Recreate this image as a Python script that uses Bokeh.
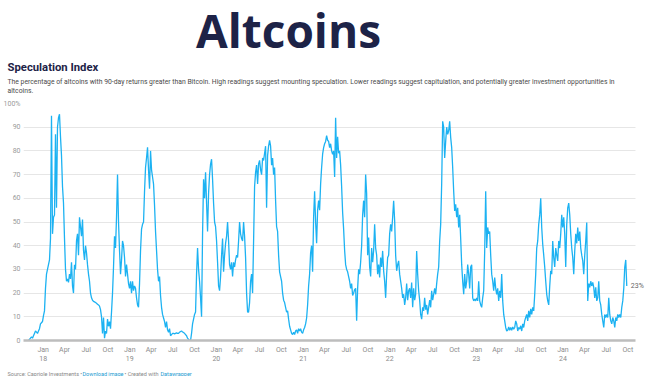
import datetime as dt
import pandas as pd
from bokeh.plotting import figure
from bokeh.layouts import column
from bokeh.models import ColumnDataSource, Range1d, FixedTicker, Label
from bokeh.embed import file_html
from bokeh.resources import INLINE

# ---------------- data ----------------
start_date = "2017-10-31"
end_date = "2024-09-26"

spec_2017_18 = [0, 0.5, 1, 1.5, 1, 2, 3, 4, 3.5, 3, 4, 5, 7, 7.5, 8, 10.5, 12.5, 22, 28, 30,
                32, 34, 43, 94.8, 45, 52, 53, 87, 56, 90, 94, 95.5, 86, 78, 65, 58, 43, 30, 25, 26,
                24.5, 28, 26, 33, 23, 20, 32, 30, 42, 45, 36, 52, 48, 44, 51, 38, 34, 40, 37, 32,
                28, 25, 20, 18, 17, 16.5, 16.3, 16, 15.7, 15.3, 15, 14.5, 13, 10, 3, 9.7, 1, 4, 3, 9,
                6, 8, 5, 12, 20, 31, 44, 39, 52, 70, 50, 38, 28, 34, 42, 40, 35, 27, 32, 28,
                24, 22]
spec_2019 = [25, 20, 25, 21, 23, 22, 18, 15, 14, 24, 38, 47, 49, 50, 63, 73, 77, 81.5, 72, 64,
             80, 72, 69, 66, 57, 46, 38, 30, 25, 27, 19, 14, 11, 9.5, 8, 5.5, 8, 4.5, 3.5, 5,
             2, 2.5, 3, 3, 2.8, 3, 3.2, 3, 3, 3.5, 3.8, 4, 3.6, 3.4, 3, 2.5, 2, 1, 0.5, 0,
             0, 3, 7, 9, 11, 12, 28, 39, 30, 25, 18, 10, 45, 68, 60, 71, 58, 46, 62, 70,
             74.4, 76.5, 68, 58, 50, 48]
spec_2020 = [42, 33, 23, 21, 27, 36, 43, 29, 36, 41, 44, 50, 42, 32, 30, 33, 27, 33, 31, 34,
             36, 35, 42, 50, 45, 43, 42, 50, 44, 35, 20, 12, 12, 16, 25, 28, 20, 42, 65, 71,
             74, 66, 74.5, 76, 72, 70, 77, 76, 79, 82, 56, 78, 82, 84.5, 82, 74, 77, 70, 73, 59,
             48, 46, 36, 29, 27, 25, 20, 17, 16, 14, 12, 12.5, 9, 6, 4.5, 3, 2.5, 3.5, 2.5, 4,
             4.5, 3, 5, 4, 5, 3.5, 3]
spec_2021 = [4.5, 5.5, 7, 9.5, 15, 23, 28, 37, 40, 29, 52, 63, 50, 41, 55, 59, 55, 66, 73, 78.6,
             81.4, 83, 84, 86.4, 84.5, 84, 81.4, 83, 80, 78.6, 80, 69, 94, 77, 86, 79, 80, 74, 65, 54,
             47, 38, 32, 30, 29, 27, 25, 22, 24, 19, 20, 21.5, 22, 8.3, 22, 30, 28, 33, 40, 53,
             59, 52, 70, 62, 36, 43.5, 31, 27, 39, 33, 38, 49, 39, 36, 28, 32, 26.6, 35, 31, 37.8,
             29.4, 25, 18, 28, 35, 36]
spec_2022 = [45, 49, 46, 52, 59, 50.5, 36, 29.4, 32, 33.6, 28, 25, 22, 18, 19.5, 15, 18, 24, 17, 21,
             22, 18, 24.5, 14, 22, 17, 19.5, 37.8, 28, 21, 17, 11, 9, 14, 12.5, 18, 13, 15, 11, 14,
             17, 14, 21, 17, 19.5, 22, 19.5, 24, 28, 31, 42, 49, 66, 92.5, 90, 77, 84, 90, 87, 88.5,
             92.5, 85.7, 81.4, 73, 63, 54.7, 57.5, 52, 56, 47.7, 53, 43, 32, 25, 19.5, 28, 22, 25, 32, 28,
             22, 31, 32, 18, 16.7, 17.5, 16.7]
spec_2023 = [18, 16.7, 25, 16.7, 15, 14, 18, 21, 37.8, 63, 39, 47.7, 45, 46, 36, 28, 25, 21, 26.6, 22,
             19.5, 22, 16.7, 21, 18, 28, 16.7, 11, 8.3, 5.5, 4, 4.3, 5.7, 4.3, 5.5, 4.3, 5.7, 4.8, 5.5, 8.3,
             7, 4, 5.5, 4.8, 6.2, 4, 7, 5.5, 8.3, 9.7, 11, 8.3, 12.5, 9.7, 13.4, 11, 14, 12.5, 19.5, 28,
             39, 42, 49, 53, 60, 47.7, 40.6, 36, 31, 25, 19.5, 16.7, 15, 23, 29.4, 28, 42, 35, 31, 39,
             36, 33.6, 42, 39, 45, 53, 47.7]
spec_2024 = [52, 45, 31, 49, 56, 58, 53, 45, 39, 35, 28, 37.8, 45, 41, 47.7, 42, 46, 39, 36, 33.6,
             28, 36, 42, 49.8, 16.7, 24, 22.4, 25, 23, 24.5, 22.4, 18, 22.4, 16.7, 18, 25, 16.7, 15, 11, 8.3,
             5.5, 11, 9.7, 11, 9.7, 18, 11, 8.3, 7, 9.7, 8.3, 5.5, 9.7, 8.3, 11, 9.7, 11, 9.7, 14, 16.7,
             22, 31, 34, 23]

y_ticks = [0, 10, 20, 30, 40, 50, 60, 70, 80, 90, 100]
y_tick_labels = ["0", "10", "20", "30", "40", "50", "60", "70", "80", "90", "100%"]
tick_years = ["18", "19", "20", "21", "22", "23", "24"]
quarter_months = ["Jan", "Apr", "Jul", "Oct"]

title_text = "Altcoins"
subtitle_text = "Speculation Index"
desc_line1 = ("The percentage of altcoins with 90-day returns greater than Bitcoin. High readings suggest "
              "mounting speculation. Lower readings suggest capitulation, and potentially greater investment opportunities in")
desc_line2 = "altcoins."

# ---------------- build ----------------
values = spec_2017_18 + spec_2019 + spec_2020 + spec_2021 + spec_2022 + spec_2023 + spec_2024
dates = pd.date_range(start_date, end_date, periods=len(values))
source = ColumnDataSource(dict(date=dates, value=values))

FONT = "Roboto"
BLUE = "#1cb2f2"
NAVY = "#1d2347"
W = 650
HEAD_H = 95
FOOT_H = 9
CHART_H = 376 - HEAD_H - FOOT_H
FRAME_TOP = 103
FRAME_BOTTOM = 340


def to_ms(d):
    return (d - dt.datetime(1970, 1, 1)).total_seconds() * 1000.0


def no_align(f):
    if "frame_align" in f.properties():
        f.frame_align = False


def blank(h):
    f = figure(width=W, height=h, output_backend="svg", toolbar_location=None,
               x_range=Range1d(0, W), y_range=Range1d(0, h),
               x_axis_location=None, y_axis_location=None,
               min_border=0, min_border_left=0, min_border_right=0,
               min_border_top=0, min_border_bottom=0)
    f.outline_line_color = None
    f.xgrid.visible = False
    f.ygrid.visible = False
    no_align(f)
    return f


def add_text(f, h, cx, cy, text, size, color, style="normal", align="left", font=FONT):
    f.add_layout(Label(x=cx, y=h - cy, text=text, text_font=font, text_font_size=size,
                       text_color=color, text_font_style=style, text_align=align,
                       text_baseline="middle"))


# header
head = blank(HEAD_H)
add_text(head, HEAD_H, 288, 29, title_text, "46px", NAVY, style="bold", align="center", font="Open Sans")
add_text(head, HEAD_H, 7, 67, subtitle_text, "11.3px", NAVY, style="bold")
add_text(head, HEAD_H, 7, 81, desc_line1, "6.8px", "#4a4a4a")
add_text(head, HEAD_H, 7, 90, desc_line2, "6.8px", "#4a4a4a")

# chart
axis_start = dt.datetime(2017, 10, 10)
axis_end = dt.datetime(2024, 11, 2)
p = figure(width=W, height=CHART_H, x_axis_type="datetime", output_backend="svg",
           toolbar_location=None,
           x_range=Range1d(axis_start, dt.datetime(2024, 12, 14)),
           y_range=Range1d(0, 100),
           min_border_left=23, min_border_right=5, min_border_top=FRAME_TOP - HEAD_H,
           min_border_bottom=HEAD_H + CHART_H - FRAME_BOTTOM)
p.outline_line_color = None
no_align(p)

p.line("date", "value", source=source, line_color=BLUE, line_width=1.3)

x_tick_ms = []
x_overrides = {}
for yi, yy in enumerate(tick_years):
    for mi, mname in enumerate(quarter_months):
        ms = to_ms(dt.datetime(2018 + yi, 1 + 3 * mi, 1))
        x_tick_ms.append(ms)
        x_overrides[ms] = f"{mname}\n{yy}" if mname == "Jan" else mname

p.xaxis.ticker = FixedTicker(ticks=x_tick_ms)
p.xaxis.major_label_overrides = x_overrides
p.xaxis.bounds = (to_ms(axis_start), to_ms(axis_end))
p.xaxis.axis_line_color = "#bdbdbd"
p.xaxis.axis_line_width = 2.5
p.xaxis.major_tick_line_color = None
p.xaxis.minor_tick_line_color = None
p.xaxis.major_tick_out = 0
p.xaxis.major_tick_in = 0
p.xaxis.minor_tick_out = 0
p.xaxis.major_label_standoff = 5
p.xaxis.major_label_text_font = FONT
p.xaxis.major_label_text_font_size = "7px"
p.xaxis.major_label_text_color = "#8c8c8c"

p.yaxis.ticker = FixedTicker(ticks=y_ticks)
p.yaxis.major_label_overrides = {t: l for t, l in zip(y_ticks, y_tick_labels)}
p.yaxis.axis_line_color = None
p.yaxis.major_tick_line_color = None
p.yaxis.minor_tick_line_color = None
p.yaxis.major_tick_out = 0
p.yaxis.major_tick_in = 0
p.yaxis.minor_tick_out = 0
p.yaxis.major_label_standoff = 3
p.yaxis.major_label_text_font = FONT
p.yaxis.major_label_text_font_size = "7px"
p.yaxis.major_label_text_color = "#9a9a9a"

p.xgrid.grid_line_color = None
p.ygrid.ticker = FixedTicker(ticks=y_ticks)
p.ygrid.grid_line_color = "#e6e6e6"
p.ygrid.grid_line_width = 1
p.ygrid.cross_bounds = (to_ms(axis_start), to_ms(axis_end))

p.add_layout(Label(x=dates[-1], y=values[-1], text=f"{values[-1]:.0f}%", x_offset=4,
                   text_baseline="middle", text_font=FONT, text_font_size="7px",
                   text_color="#666666"))

# footer
foot = blank(FOOT_H)
fy = 370 - (376 - FOOT_H)
add_text(foot, FOOT_H, 7, fy, "Source: Capriole Investments \u2022", "5.5px", "#888888")
add_text(foot, FOOT_H, 82, fy, "Download image", "5.5px", "#1d9bd1")
add_text(foot, FOOT_H, 124, fy, "\u2022 Created with", "5.5px", "#888888")
add_text(foot, FOOT_H, 160, fy, "Datawrapper", "5.5px", "#1d9bd1")

layout = column(head, p, foot, spacing=0)
open("out.html", "w").write(file_html(layout, INLINE))
